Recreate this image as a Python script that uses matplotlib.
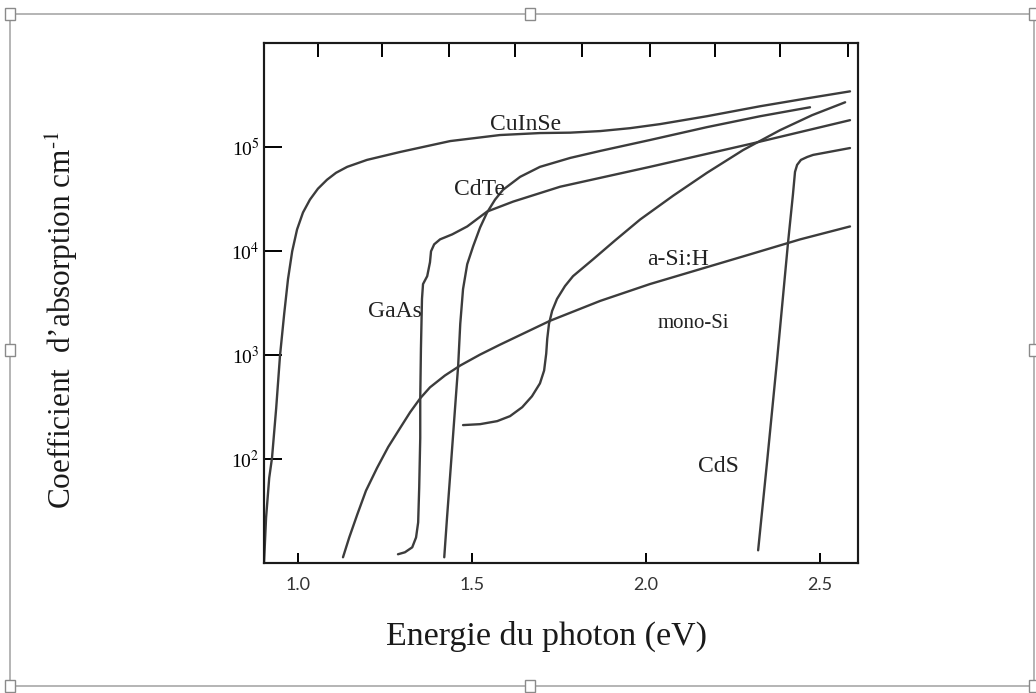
import numpy as np
import matplotlib
matplotlib.use("Agg")
import matplotlib.pyplot as plt
from matplotlib.patches import Rectangle

plt.rcParams['font.family'] = ['Liberation Serif', 'DejaVu Serif']
plt.rcParams['mathtext.fontset'] = 'stix'

# absorption curves, energy (eV) and log10(alpha / cm-1)
cuinse_E = [0.902, 0.908, 0.917, 0.925, 0.937, 0.948, 0.960, 0.971, 0.983, 0.997,
            1.014, 1.034, 1.057, 1.083, 1.109, 1.141, 1.198, 1.293, 1.437, 1.580,
            1.695, 1.782, 1.868, 1.954, 2.040, 2.175, 2.328, 2.463, 2.586]
cuinse_L = [1.00, 1.437, 1.819, 2.010, 2.488, 2.994, 3.395, 3.730, 3.997, 4.207,
            4.370, 4.494, 4.599, 4.685, 4.752, 4.809, 4.876, 4.952, 5.057, 5.115,
            5.134, 5.138, 5.153, 5.181, 5.220, 5.296, 5.392, 5.468, 5.535]

cdte_E = [1.420, 1.428, 1.440, 1.451, 1.460, 1.466, 1.474, 1.486, 1.503, 1.523,
          1.543, 1.566, 1.589, 1.638, 1.695, 1.782, 1.868, 2.011, 2.175, 2.328, 2.471]
cdte_L = [1.055, 1.437, 1.982, 2.488, 2.899, 3.300, 3.634, 3.873, 4.045, 4.226,
          4.370, 4.494, 4.589, 4.713, 4.809, 4.895, 4.962, 5.067, 5.191, 5.296, 5.382]

gaas_E = [1.287, 1.307, 1.328, 1.339, 1.345, 1.348, 1.351, 1.351, 1.353, 1.356,
          1.359, 1.371, 1.379, 1.382, 1.391, 1.408, 1.443, 1.486, 1.543, 1.618,
          1.753, 2.011, 2.299, 2.586]
gaas_L = [1.084, 1.103, 1.151, 1.246, 1.390, 1.724, 2.202, 2.584, 3.061, 3.539,
          3.682, 3.758, 3.892, 3.997, 4.064, 4.112, 4.160, 4.236, 4.379, 4.475,
          4.618, 4.809, 5.029, 5.258]

monosi_E = [1.129, 1.147, 1.170, 1.195, 1.227, 1.259, 1.293, 1.322, 1.351, 1.379,
            1.422, 1.466, 1.523, 1.580, 1.652, 1.724, 1.868, 2.011, 2.155, 2.299,
            2.443, 2.586]
monosi_L = [1.055, 1.246, 1.466, 1.695, 1.915, 2.116, 2.297, 2.450, 2.584, 2.689,
            2.803, 2.899, 3.004, 3.099, 3.214, 3.329, 3.520, 3.682, 3.825, 3.968,
            4.112, 4.236]

asih_E = [1.474, 1.523, 1.572, 1.609, 1.644, 1.672, 1.695, 1.707, 1.713, 1.716,
          1.721, 1.730, 1.744, 1.767, 1.790, 1.848, 1.911, 1.983, 2.078, 2.175,
          2.279, 2.385, 2.477, 2.572]
asih_L = [2.326, 2.335, 2.364, 2.412, 2.498, 2.603, 2.727, 2.851, 3.013, 3.157,
          3.300, 3.424, 3.539, 3.663, 3.758, 3.921, 4.102, 4.303, 4.532, 4.752,
          4.971, 5.162, 5.306, 5.430]

cds_E = [2.322, 2.348, 2.376, 2.408, 2.422, 2.428, 2.434, 2.445, 2.463, 2.480, 2.586]
cds_L = [1.122, 1.982, 2.937, 4.083, 4.542, 4.761, 4.828, 4.876, 4.904, 4.924, 4.990]

# curve labels: text, energy, log10(alpha)
labels = ["CuInSe", "CdTe", "GaAs", "a-Si:H", "mono-Si", "CdS"]
label_E = [1.655, 1.520, 1.279, 2.092, 2.135, 2.207]
label_L = [5.215, 4.590, 3.420, 3.920, 3.305, 1.930]
label_size = [17, 17, 17, 17, 15, 17]

x_ticks = [1.0, 1.5, 2.0, 2.5]
x_ticklabels = ["1.0", "1.5", "2.0", "2.5"]
top_ticks = [1.057, 1.241, 1.434, 1.624, 1.816, 2.011, 2.198, 2.385, 2.580]
y_ticks = [1e2, 1e3, 1e4, 1e5]
y_ticklabels = ["10$^{2}$", "10$^{3}$", "10$^{4}$", "10$^{5}$"]

W, H = 1036, 693
fig = plt.figure(figsize=(W / 100, H / 100), dpi=100)
ax = fig.add_axes([264 / W, 1 - 563 / H, 594 / W, 520 / H])

curve_col = "#3c3c3c"
for E, L in [(cuinse_E, cuinse_L), (cdte_E, cdte_L), (gaas_E, gaas_L),
             (monosi_E, monosi_L), (asih_E, asih_L), (cds_E, cds_L)]:
    ax.plot(E, np.power(10.0, L), color=curve_col, lw=1.7,
            solid_capstyle='round', solid_joinstyle='round')

for txt, e, l, s in zip(labels, label_E, label_L, label_size):
    ax.text(e, 10 ** l, txt, fontsize=s, ha='center', va='center', color="#222222")

ax.set_yscale('log')
ax.set_xlim(0.902, 2.609)
ax.set_ylim(10, 1e6)
ax.set_yticks(y_ticks)
ax.set_yticklabels(y_ticklabels, fontsize=14)
ax.yaxis.set_minor_locator(matplotlib.ticker.NullLocator())
ax.set_xticks(x_ticks)
ax.set_xticklabels(x_ticklabels, fontsize=13, family='Lato', color="#333333")
ax.tick_params(axis='y', direction='in', length=13, width=1.4, pad=3)
ax.tick_params(axis='x', direction='in', length=7, width=1.4, pad=10)

ax2 = ax.twiny()
ax2.set_xlim(ax.get_xlim())
ax2.set_xticks(top_ticks)
ax2.set_xticklabels([])
ax2.tick_params(axis='x', direction='in', length=10, width=1.4)

for a in (ax, ax2):
    for sp in a.spines.values():
        sp.set_linewidth(1.5)
        sp.set_color("#1a1a1a")

fig.text(546 / W, 1 - 636 / H, "Energie du photon (eV)", fontsize=24.5,
         ha='center', va='center', color="#1a1a1a")
fig.text(62 / W, 1 - 320 / H, "Coefficient  d\u2019absorption cm$^{\\text{-}1}$",
         fontsize=22.5, rotation=90, ha='center', va='center', color="#1a1a1a")

# selection frame around the embedded picture
frame_col = "#a8a8a8"
fig.add_artist(Rectangle((10 / W, 1 - 686 / H), 1024 / W, 672 / H, transform=fig.transFigure,
                         fill=False, edgecolor=frame_col, lw=1.2))
for hx, hy in [(10, 14), (530, 14), (1034, 14), (10, 350), (1034, 350),
               (10, 686), (530, 686), (1034, 686)]:
    fig.add_artist(Rectangle(((hx - 5) / W, 1 - (hy + 6) / H), 10 / W, 12 / H,
                             transform=fig.transFigure, facecolor='white',
                             edgecolor="#8a8a8a", lw=1.0))

fig.savefig("out.png", dpi=100)
